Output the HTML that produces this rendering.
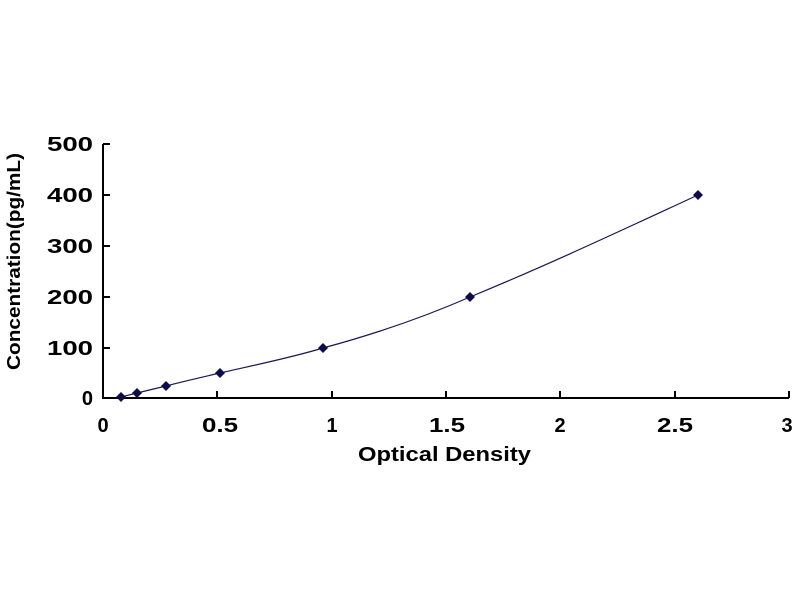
<!DOCTYPE html><html><head><style>body{margin:0;background:#fff}svg{display:block}text{font-family:"Liberation Sans",Arial,sans-serif;font-weight:bold;fill:#000}</style></head><body>
<svg width="800" height="600" viewBox="0 0 800 600">
<g stroke="#000" stroke-width="2" fill="none">
<path d="M103,144V398H789"/>
<path d="M103,144h7M103,195h7M103,246h7M103,297h7M103,348h7"/>
<path d="M217,398v-7M332,398v-7M446,398v-7M560,398v-7M675,398v-7M789,398v-7"/>
</g>
<path d="M121,397 L137,393 L166,386 C185,381 203,377 220,373 C255,365 290,358 323,348 C375,334 422,318 470,297 C550,264 620,231 698,195" stroke="#1a1a50" stroke-width="1.2" fill="none"/>
<g fill="#0d0d4a">
<path d="M121,392l5,5-5,5-5-5z"/><path d="M137,388l5,5-5,5-5-5z"/><path d="M166,381l5,5-5,5-5-5z"/><path d="M220,368l5,5-5,5-5-5z"/><path d="M323,343l5,5-5,5-5-5z"/><path d="M470,292l5,5-5,5-5-5z"/><path d="M698,190l5,5-5,5-5-5z"/>
</g>
<g font-size="20" text-anchor="end">
<text x="93" y="405">0</text>
<text x="93" y="355" textLength="46" lengthAdjust="spacingAndGlyphs">100</text>
<text x="93" y="304" textLength="46" lengthAdjust="spacingAndGlyphs">200</text>
<text x="93" y="253" textLength="46" lengthAdjust="spacingAndGlyphs">300</text>
<text x="93" y="202" textLength="46" lengthAdjust="spacingAndGlyphs">400</text>
<text x="93" y="151" textLength="46" lengthAdjust="spacingAndGlyphs">500</text>
</g>
<g font-size="20" text-anchor="middle">
<text x="103" y="432">0</text><text x="220" y="432" textLength="36" lengthAdjust="spacingAndGlyphs">0.5</text><text x="332" y="432">1</text><text x="447" y="432" textLength="36" lengthAdjust="spacingAndGlyphs">1.5</text><text x="560" y="432">2</text><text x="675" y="432" textLength="36" lengthAdjust="spacingAndGlyphs">2.5</text><text x="787" y="432">3</text>
</g>
<text x="358" y="461" font-size="20" textLength="173" lengthAdjust="spacingAndGlyphs">Optical Density</text>
<text transform="translate(20,370) rotate(-90)" font-size="18" textLength="217" lengthAdjust="spacingAndGlyphs">Concentration(pg/mL)</text>
</svg></body></html>
